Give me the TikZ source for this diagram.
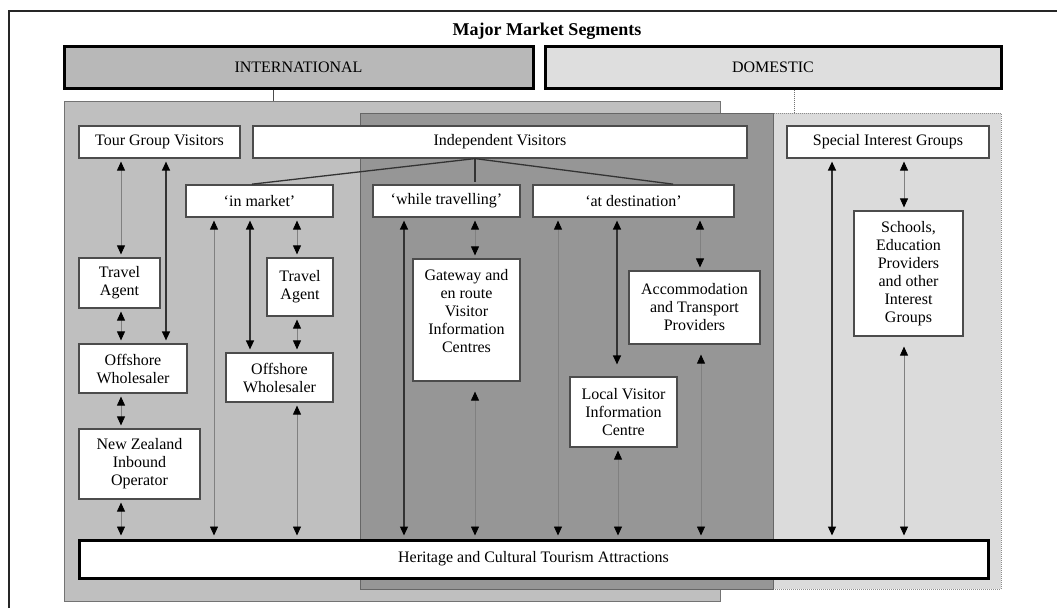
\documentclass[tikz,border=0pt]{standalone}
\usepackage{fontspec}
\setmainfont{Liberation Serif}
\usetikzlibrary{arrows.meta}
\definecolor{intlbox}{gray}{0.72}
\definecolor{dombox}{gray}{0.87}
\definecolor{intlpanel}{gray}{0.75}
\definecolor{darkpanel}{gray}{0.59}
\definecolor{dompanel}{gray}{0.86}
\definecolor{boxline}{gray}{0.30}
\definecolor{linegray}{gray}{0.50}
\begin{document}
\begin{tikzpicture}[x=1pt, y=-1pt, font=\fontsize{16}{18}\selectfont,
  box/.style={draw=boxline, fill=white, line width=1.2pt, align=center, inner sep=1pt},
  bigbox/.style={draw=black, line width=3pt, align=center},
  panel/.style={line width=1pt, inner sep=0pt},
  link/.style={{Triangle[width=8pt,length=9pt,black]}-{Triangle[width=8pt,length=9pt,black]}, shorten <=3pt, shorten >=3pt},
  faint/.style={link, draw=linegray, line width=0.8pt},
  strong/.style={link, draw=black!80, line width=1.3pt},
  wide gap/.style={shorten <=10pt}]
  \useasboundingbox (0,0) rectangle (1057,608);
  \draw[line width=1.2pt, black!85] (9,608) -- (9,11) -- (1057,11); % page frame

  \node[font=\fontsize{18}{20}\selectfont\bfseries] (title) at (547,31) {Major Market Segments};
  \node[bigbox, fill=intlbox, minimum width=469, minimum height=42] (intl) at (298.5,67) {INTERNATIONAL};
  \node[bigbox, fill=dombox, minimum width=456, minimum height=42] (dom) at (773,67) {DOMESTIC};

  % segment panels
  \node[panel, fill=intlpanel, draw=black!55, minimum width=656, minimum height=500] (ip) at (392,351) {};
  \node[panel, fill=dompanel, draw=black!45, densely dotted, minimum width=228, minimum height=476] (dp) at (887,351) {};
  \node[panel, fill=darkpanel, draw=black!60, minimum width=413, minimum height=476] (vp) at (566.5,351) {};
  \draw[black!70, line width=1pt] (intl.south -| 273,0) -- (ip.north -| 273,0);
  \draw[black!55, densely dotted, line width=1pt] (dom.south -| 794,0) -- (dp.north -| 794,0);

  \node[box, minimum width=161, minimum height=32] (tg) at (159.5,142) {Tour Group Visitors};
  \node[box, minimum width=494, minimum height=32] (iv) at (500,142) {Independent Visitors};
  \node[box, minimum width=202, minimum height=32] (sig) at (888,142) {Special Interest Groups};
  \node[box, minimum width=147, minimum height=32] (im) at (259.5,201) {`in market'};
  \node[box, minimum width=147, minimum height=32] (wt) at (446.5,201) {`while travelling'};
  \node[box, minimum width=201, minimum height=32] (ad) at (633.5,201) {`at destination'};

  \node[box, minimum width=81, minimum height=50] (ta1) at (119.5,283) {Travel\\Agent};
  \node[box, minimum width=108, minimum height=49] (ow1) at (133,368.5) {Offshore\\Wholesaler};
  \node[box, minimum width=121, minimum height=70] (nz) at (139.5,464) {New Zealand\\Inbound\\Operator};
  \node[box, minimum width=66, minimum height=58] (ta2) at (300,287) {Travel\\Agent};
  \node[box, minimum width=107, minimum height=49] (ow2) at (279.5,377.5) {Offshore\\Wholesaler};
  \node[box, minimum width=107, minimum height=122] (gw) at (466.5,320) {Gateway and\\en route\\Visitor\\Information\\Centres\\\mbox{}};
  \node[box, minimum width=107, minimum height=70] (lv) at (623.5,412) {Local Visitor\\Information\\Centre};
  \node[box, minimum width=131, minimum height=73] (acc) at (694.5,307.5) {Accommodation\\and Transport\\Providers};
  \node[box, minimum width=109, minimum height=125] (sch) at (908.5,273.5) {Schools,\\Education\\Providers\\and other\\Interest\\Groups};
  \node[bigbox, fill=white, minimum width=909, minimum height=38] (her) at (533.5,559) {Heritage and Cultural Tourism Attractions};

  % independent visitors split
  \coordinate (fork) at (iv.south -| 475,0);
  \draw[black!80, line width=1.3pt, shorten >=2pt] (fork) -- (im.north -| 250,0);
  \draw[black!80, line width=1.3pt, shorten >=2pt] (fork) -- (wt.north -| 475,0);
  \draw[black!80, line width=1.3pt, shorten >=2pt] (fork) -- (ad.north -| 675,0);

  % tour groups
  \draw[faint] (tg.south -| 121,0) -- (ta1.north -| 121,0);
  \draw[strong] (tg.south -| 166,0) -- (ow1.north -| 166,0);
  \draw[faint] (ta1.south -| 121,0) -- (ow1.north -| 121,0);
  \draw[faint] (ow1.south -| 121,0) -- (nz.north -| 121,0);
  \draw[faint] (nz.south -| 121,0) -- (her.north -| 121,0);

  % in market
  \draw[faint] (im.south -| 214,0) -- (her.north -| 214,0);
  \draw[strong] (im.south -| 250,0) -- (ow2.north -| 250,0);
  \draw[faint] (im.south -| 297,0) -- (ta2.north -| 297,0);
  \draw[faint] (ta2.south -| 297,0) -- (ow2.north -| 297,0);
  \draw[faint] (ow2.south -| 297,0) -- (her.north -| 297,0);

  % while travelling
  \draw[strong] (wt.south -| 404,0) -- (her.north -| 404,0);
  \draw[faint] (wt.south -| 475,0) -- (gw.north -| 475,0);
  \draw[faint, wide gap] (gw.south -| 475,0) -- (her.north -| 475,0);

  % at destination
  \draw[faint] (ad.south -| 558,0) -- (her.north -| 558,0);
  \draw[strong, shorten >=12pt] (ad.south -| 617,0) -- (lv.north -| 617,0);
  \draw[faint] (lv.south -| 618,0) -- (her.north -| 618,0);
  \draw[faint] (ad.south -| 700,0) -- (acc.north -| 700,0);
  \draw[faint, wide gap] (acc.south -| 701,0) -- (her.north -| 701,0);

  % special interest
  \draw[strong] (sig.south -| 832,0) -- (her.north -| 832,0);
  \draw[faint] (sig.south -| 904,0) -- (sch.north -| 904,0);
  \draw[faint, wide gap] (sch.south -| 904,0) -- (her.north -| 904,0);
\end{tikzpicture}
\end{document}
